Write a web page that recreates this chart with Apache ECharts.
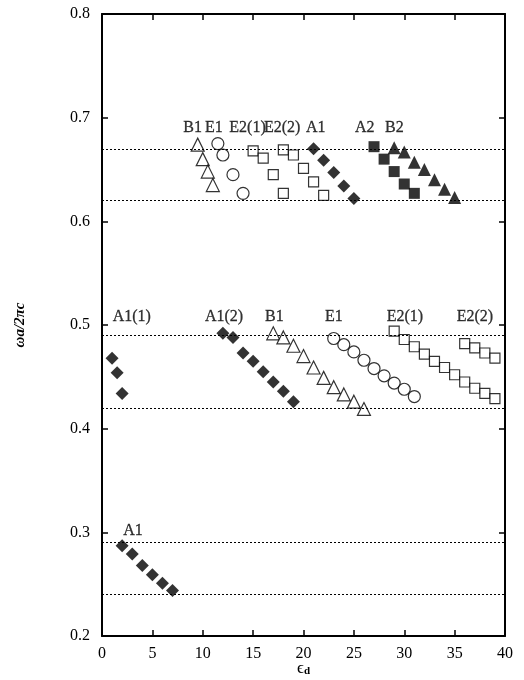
<!DOCTYPE html>
<html>
<head>
<meta charset="utf-8">
<script src="https://cdn.jsdelivr.net/npm/echarts@6/dist/echarts.min.js"></script>
<style>
  html, body { margin: 0; padding: 0; background: #fff; }
  #chart { width: 524px; height: 680px; }
</style>
</head>
<body>
<div id="chart"></div>
<script>
// Band frequencies versus dielectric constant, grouped by mode.
const upperB1X = [9.5, 10, 10.5, 11];
const upperB1Y = [0.674, 0.660, 0.648, 0.635];
const upperE1X = [11.5, 12, 13, 14];
const upperE1Y = [0.675, 0.664, 0.645, 0.627];
const upperE21X = [15, 16, 17, 18];
const upperE21Y = [0.668, 0.661, 0.645, 0.627];
const upperE22X = [18, 19, 20, 21, 22];
const upperE22Y = [0.669, 0.664, 0.651, 0.638, 0.625];
const upperA1X = [21, 22, 23, 24, 25];
const upperA1Y = [0.670, 0.659, 0.647, 0.634, 0.622];
const upperA2X = [27, 28, 29, 30, 31];
const upperA2Y = [0.672, 0.660, 0.648, 0.636, 0.627];
const upperB2X = [29, 30, 31, 32, 33, 34, 35];
const upperB2Y = [0.671, 0.667, 0.657, 0.650, 0.640, 0.631, 0.623];

const midA11X = [1, 1.5, 2];
const midA11Y = [0.468, 0.454, 0.434];
const midA12X = [12, 13, 14, 15, 16, 17, 18, 19];
const midA12Y = [0.492, 0.488, 0.473, 0.465, 0.455, 0.445, 0.436, 0.426];
const midB1X = [17, 18, 19, 20, 21, 22, 23, 24, 25, 26];
const midB1Y = [0.492, 0.488, 0.480, 0.470, 0.459, 0.449, 0.440, 0.433, 0.426, 0.419];
const midE1X = [23, 24, 25, 26, 27, 28, 29, 30, 31];
const midE1Y = [0.487, 0.481, 0.474, 0.466, 0.458, 0.451, 0.444, 0.438, 0.431];
const midE21X = [29, 30, 31, 32, 33, 34, 35, 36, 37, 38, 39];
const midE21Y = [0.494, 0.486, 0.479, 0.472, 0.465, 0.459, 0.452, 0.445, 0.439, 0.434, 0.429];
const midE22X = [36, 37, 38, 39];
const midE22Y = [0.482, 0.478, 0.473, 0.468];

const lowA1X = [2, 3, 4, 5, 6, 7];
const lowA1Y = [0.287, 0.279, 0.268, 0.259, 0.251, 0.244];

// Gap edges drawn as dotted reference lines
const gapEdges = [0.672, 0.623, 0.495, 0.421, 0.289, 0.239];

// Mode labels
const labelText = ['B1', 'E1', 'E2(1)', 'E2(2)', 'A1', 'A2', 'B2',
                   'A1(1)', 'A1(2)', 'B1', 'E1', 'E2(1)', 'E2(2)', 'A1'];
const labelX = [8.07, 10.22, 12.64, 16.08, 20.25, 25.11, 28.09,
                1.06, 10.22, 16.18, 22.13, 28.26, 35.2, 2.11];
const labelY = [0.690, 0.690, 0.690, 0.690, 0.690, 0.690, 0.690,
                0.508, 0.508, 0.508, 0.508, 0.508, 0.508, 0.301];

const FONT = 'Liberation Serif';
const zip = (xs, ys) => xs.map((x, i) => [x, ys[i]]);

const filled = { color: '#000', borderColor: '#000', borderWidth: 0 };
const open = { color: '#fff', borderColor: '#000', borderWidth: 1.2 };

function pts(data, symbol, size, style) {
  return {
    type: 'scatter', data, symbol, symbolSize: size,
    itemStyle: style, z: 3, silent: true
  };
}

const series = [
  {
    type: 'line', data: [], silent: true,
    markLine: {
      silent: true, symbol: 'none', label: { show: false },
      lineStyle: { color: '#000', width: 1, type: [2, 2] },
      data: gapEdges.map(v => ({ yAxis: v }))
    }
  },
  pts(zip(upperB1X, upperB1Y), 'triangle', 13, open),
  pts(zip(upperE1X, upperE1Y), 'circle', 12, open),
  pts(zip(upperE21X, upperE21Y), 'rect', 10, open),
  pts(zip(upperE22X, upperE22Y), 'rect', 10, open),
  pts(zip(upperA1X, upperA1Y), 'diamond', 13, filled),
  pts(zip(upperA2X, upperA2Y), 'rect', 11, filled),
  pts(zip(upperB2X, upperB2Y), 'triangle', 13, filled),
  pts(zip(midA11X, midA11Y), 'diamond', 13, filled),
  pts(zip(midA12X, midA12Y), 'diamond', 13, filled),
  pts(zip(midB1X, midB1Y), 'triangle', 13, open),
  pts(zip(midE1X, midE1Y), 'circle', 12, open),
  pts(zip(midE21X, midE21Y), 'rect', 10, open),
  pts(zip(midE22X, midE22Y), 'rect', 10, open),
  pts(zip(lowA1X, lowA1Y), 'diamond', 13, filled),
  {
    type: 'scatter', silent: true, symbolSize: 0, z: 4,
    data: labelText.map((t, i) => ({ value: [labelX[i], labelY[i]], name: t })),
    label: {
      show: true, position: 'right', distance: 0,
      formatter: p => p.name,
      fontFamily: FONT, fontSize: 16, color: '#000',
      textBorderColor: '#000', textBorderWidth: 0.3
    }
  }
];

const frameLine = { show: true, onZero: false, lineStyle: { color: '#000', width: 2 } };
const innerTick = { show: true, inside: true, length: 6, lineStyle: { color: '#000', width: 1.5 } };

const option = {
  animation: false,
  backgroundColor: '#fff',
  grid: { left: 102, right: 19, top: 14, bottom: 44, outerBoundsMode: 'none', containLabel: false },
  xAxis: [
    {
      type: 'value', min: 0, max: 40, interval: 5, position: 'bottom',
      axisLine: frameLine, axisTick: innerTick, splitLine: { show: false },
      axisLabel: { fontFamily: FONT, fontSize: 16, color: '#000', margin: 10 },
      name: '{e|\u03F5}{d|d}', nameLocation: 'middle', nameGap: 24, nameMoveOverlap: false,
      nameTextStyle: {
        verticalAlign: 'top',
        rich: {
          e: { fontFamily: FONT, fontSize: 17, color: '#000' },
          d: { fontFamily: FONT, fontSize: 11, color: '#000', fontWeight: 'bold', padding: [6, 0, 0, 0] }
        }
      }
    },
    {
      type: 'value', min: 0, max: 40, interval: 5, position: 'top',
      axisLine: frameLine, axisTick: innerTick, splitLine: { show: false },
      axisLabel: { show: false }
    }
  ],
  yAxis: [
    {
      type: 'value', min: 0.2, max: 0.8, interval: 0.1, position: 'left',
      axisLine: frameLine, axisTick: innerTick, splitLine: { show: false },
      axisLabel: {
        fontFamily: FONT, fontSize: 16, color: '#000', margin: 12,
        formatter: v => v.toFixed(1)
      },
      name: '\u03C9a/2\u03C0c', nameLocation: 'middle', nameGap: 74, nameRotate: 90, nameMoveOverlap: false,
      nameTextStyle: { fontFamily: FONT, fontSize: 15, fontStyle: 'italic', fontWeight: 'bold', color: '#000' }
    },
    {
      type: 'value', min: 0.2, max: 0.8, interval: 0.1, position: 'right',
      axisLine: frameLine, axisTick: innerTick, splitLine: { show: false },
      axisLabel: { show: false }
    }
  ],
  series
};

const chart = echarts.init(document.getElementById('chart'), null, { renderer: 'canvas' });
chart.setOption(option);
</script>
</body>
</html>
